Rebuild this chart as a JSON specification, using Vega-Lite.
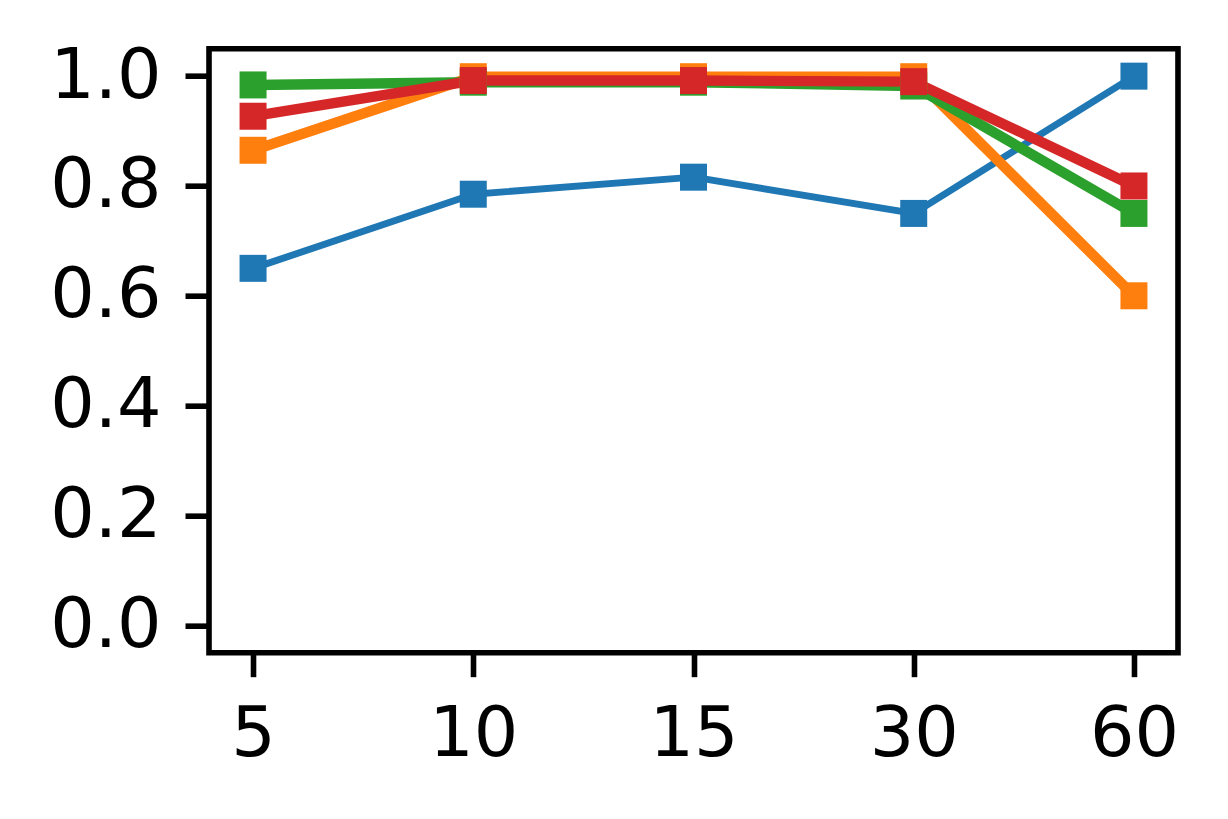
{
  "$schema": "https://vega.github.io/schema/vega-lite/v6.json",
  "width": 969,
  "height": 604,
  "autosize": {"type": "none"},
  "padding": {"left": 209, "top": 48.7, "right": 50, "bottom": 166},
  "background": "white",
  "config": {
    "font": "DejaVu Sans",
    "view": {"stroke": "black", "strokeWidth": 5.6},
    "axis": {
      "domain": false,
      "grid": false,
      "ticks": true,
      "tickColor": "black",
      "tickWidth": 5.6,
      "tickSize": 24,
      "labelPadding": 24,
      "labelFont": "DejaVu Sans",
      "labelFontSize": 70,
      "labelColor": "black",
      "title": null
    }
  },
  "data": {
    "values": [
      {"series": "a", "t": "5", "v": 0.65},
      {"series": "a", "t": "10", "v": 0.785},
      {"series": "a", "t": "15", "v": 0.816},
      {"series": "a", "t": "30", "v": 0.75},
      {"series": "a", "t": "60", "v": 1.0},
      {"series": "b", "t": "5", "v": 0.865},
      {"series": "b", "t": "10", "v": 0.999},
      {"series": "b", "t": "15", "v": 0.999},
      {"series": "b", "t": "30", "v": 0.999},
      {"series": "b", "t": "60", "v": 0.6},
      {"series": "c", "t": "5", "v": 0.984},
      {"series": "c", "t": "10", "v": 0.989},
      {"series": "c", "t": "15", "v": 0.989},
      {"series": "c", "t": "30", "v": 0.982},
      {"series": "c", "t": "60", "v": 0.75},
      {"series": "d", "t": "5", "v": 0.927},
      {"series": "d", "t": "10", "v": 0.992},
      {"series": "d", "t": "15", "v": 0.992},
      {"series": "d", "t": "30", "v": 0.99},
      {"series": "d", "t": "60", "v": 0.8}
    ]
  },
  "encoding": {
    "x": {
      "field": "t",
      "type": "ordinal",
      "sort": ["5", "10", "15", "30", "60"],
      "scale": {"type": "point", "padding": 0.2},
      "axis": {"labelAngle": 0}
    },
    "y": {
      "field": "v",
      "type": "quantitative",
      "scale": {"domain": [-0.05, 1.05], "nice": false, "zero": false},
      "axis": {"values": [0, 0.2, 0.4, 0.6, 0.8, 1.0], "format": ".1f"}
    },
    "color": {
      "field": "series",
      "type": "nominal",
      "scale": {"domain": ["a", "b", "c", "d"], "range": ["#1f77b4", "#ff7f0e", "#2ca02c", "#d62728"]},
      "legend": null
    }
  },
  "layer": [
    {
      "mark": {"type": "line", "strokeCap": "square", "strokeJoin": "round"},
      "encoding": {
        "strokeWidth": {
          "condition": {"test": "datum.series === 'a'", "value": 6.9},
          "value": 10.4
        }
      }
    },
    {
      "mark": {"type": "point", "shape": "square", "filled": true, "size": 729, "opacity": 1}
    }
  ]
}
